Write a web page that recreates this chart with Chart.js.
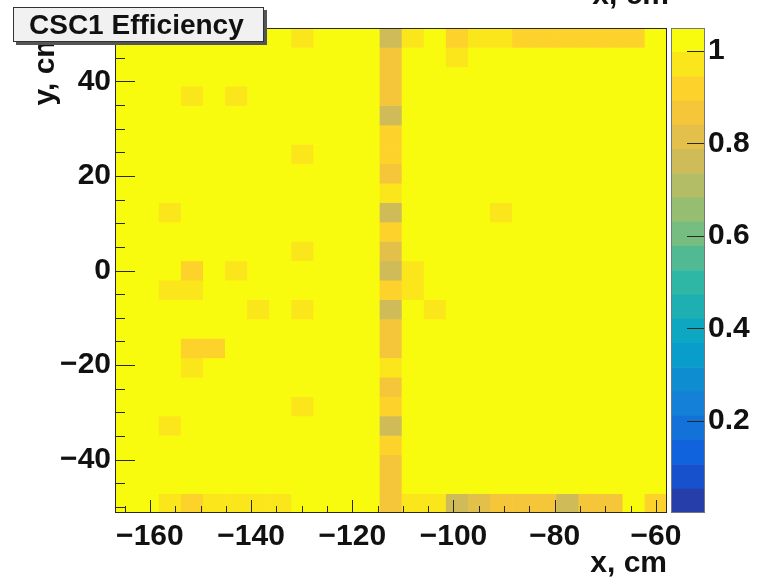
<!DOCTYPE html>
<html>
<head>
<meta charset="utf-8">
<script src="https://cdn.jsdelivr.net/npm/chart.js@4.4.0/dist/chart.umd.min.js"></script>
<style>
    body { margin: 0; background: #ffffff; }
    #marco { position: relative; width: 769px; height: 579px; }
    #marco canvas { position: absolute; left: 0; top: 0; }
</style>
</head>
<body>
<div id="marco">
    <canvas id="mapa" width="769" height="579"></canvas>
    <canvas id="escala" width="769" height="579"></canvas>
</div>
<script>
// histograma 25 x 25 (cm)
var xMin = -166.9, xMax = -57.8, nX = 25;
var yMin = -51.3, yMax = 51.3, nY = 25;
var zMin = 0, zMax = 1.05, nContours = 20;
var xTicks = [-160, -140, -120, -100, -80, -60];
var yTicks = [-40, -20, 0, 20, 40];
var zTicks = [0.2, 0.4, 0.6, 0.8, 1];
var titulo = 'CSC1 Efficiency';
var tituloX = 'x, cm';
var tituloY = 'y, cm';

// eficiencia por bin, filas de arriba (y max) hacia abajo, columnas de x min a x max
var eff = [
    [1, 1, 1, 1, 1, 1, 1, 1, .97, 1, 1, 1, .77, .96, 1, .91, .96, .96, .91, .91, .91, .91, .91, .91, 1],
    [1, 1, 1, 1, 1, 1, 1, 1, 1, 1, 1, 1, .87, 1, 1, .96, 1, 1, 1, 1, 1, 1, 1, 1, 1],
    [1, 1, 1, 1, 1, 1, 1, 1, 1, 1, 1, 1, .87, 1, 1, 1, 1, 1, 1, 1, 1, 1, 1, 1, 1],
    [1, 1, 1, .97, 1, .97, 1, 1, 1, 1, 1, 1, .87, 1, 1, 1, 1, 1, 1, 1, 1, 1, 1, 1, 1],
    [1, 1, 1, 1, 1, 1, 1, 1, 1, 1, 1, 1, .77, 1, 1, 1, 1, 1, 1, 1, 1, 1, 1, 1, 1],
    [1, 1, 1, 1, 1, 1, 1, 1, 1, 1, 1, 1, .91, 1, 1, 1, 1, 1, 1, 1, 1, 1, 1, 1, 1],
    [1, 1, 1, 1, 1, 1, 1, 1, .97, 1, 1, 1, .91, 1, 1, 1, 1, 1, 1, 1, 1, 1, 1, 1, 1],
    [1, 1, 1, 1, 1, 1, 1, 1, 1, 1, 1, 1, .87, 1, 1, 1, 1, 1, 1, 1, 1, 1, 1, 1, 1],
    [1, 1, 1, 1, 1, 1, 1, 1, 1, 1, 1, 1, .96, 1, 1, 1, 1, 1, 1, 1, 1, 1, 1, 1, 1],
    [1, 1, .96, 1, 1, 1, 1, 1, 1, 1, 1, 1, .77, 1, 1, 1, 1, .96, 1, 1, 1, 1, 1, 1, 1],
    [1, 1, 1, 1, 1, 1, 1, 1, 1, 1, 1, 1, .91, 1, 1, 1, 1, 1, 1, 1, 1, 1, 1, 1, 1],
    [1, 1, 1, 1, 1, 1, 1, 1, .97, 1, 1, 1, .80, 1, 1, 1, 1, 1, 1, 1, 1, 1, 1, 1, 1],
    [1, 1, 1, .93, 1, .96, 1, 1, 1, 1, 1, 1, .77, .96, 1, 1, 1, 1, 1, 1, 1, 1, 1, 1, 1],
    [1, 1, .96, .96, 1, 1, 1, 1, 1, 1, 1, 1, .91, .96, 1, 1, 1, 1, 1, 1, 1, 1, 1, 1, 1],
    [1, 1, 1, 1, 1, 1, .95, 1, .96, 1, 1, 1, .77, 1, .96, 1, 1, 1, 1, 1, 1, 1, 1, 1, 1],
    [1, 1, 1, 1, 1, 1, 1, 1, 1, 1, 1, 1, .88, 1, 1, 1, 1, 1, 1, 1, 1, 1, 1, 1, 1],
    [1, 1, 1, .93, .93, 1, 1, 1, 1, 1, 1, 1, .88, 1, 1, 1, 1, 1, 1, 1, 1, 1, 1, 1, 1],
    [1, 1, 1, .96, 1, 1, 1, 1, 1, 1, 1, 1, .96, 1, 1, 1, 1, 1, 1, 1, 1, 1, 1, 1, 1],
    [1, 1, 1, 1, 1, 1, 1, 1, 1, 1, 1, 1, .86, 1, 1, 1, 1, 1, 1, 1, 1, 1, 1, 1, 1],
    [1, 1, 1, 1, 1, 1, 1, 1, .97, 1, 1, 1, .91, 1, 1, 1, 1, 1, 1, 1, 1, 1, 1, 1, 1],
    [1, 1, .96, 1, 1, 1, 1, 1, 1, 1, 1, 1, .77, 1, 1, 1, 1, 1, 1, 1, 1, 1, 1, 1, 1],
    [1, 1, 1, 1, 1, 1, 1, 1, 1, 1, 1, 1, .91, 1, 1, 1, 1, 1, 1, 1, 1, 1, 1, 1, 1],
    [1, 1, 1, 1, 1, 1, 1, 1, 1, 1, 1, 1, .87, 1, 1, 1, 1, 1, 1, 1, 1, 1, 1, 1, 1],
    [1, 1, 1, 1, 1, 1, 1, 1, 1, 1, 1, 1, .87, 1, 1, 1, 1, 1, 1, 1, 1, 1, 1, 1, 1],
    [1, 1, .96, .93, .96, .96, .96, .96, 1, 1, 1, 1, .87, .96, .96, .77, .82, .87, .87, .87, .77, .87, .87, 1, .90]
];

// paleta kBird de ROOT
var birdStops = [0.0000, 0.1250, 0.2500, 0.3750, 0.5000, 0.6250, 0.7500, 0.8750, 1.0000];
var birdR = [0.2082, 0.0592, 0.0780, 0.0232, 0.1802, 0.5301, 0.8186, 0.9956, 0.9764];
var birdG = [0.1664, 0.3599, 0.5041, 0.6419, 0.7178, 0.7492, 0.7328, 0.7862, 0.9832];
var birdB = [0.5293, 0.8684, 0.8385, 0.7914, 0.6425, 0.4662, 0.3499, 0.1968, 0.0539];

var bird = function (t) {
    t = Math.max(0, Math.min(1, t));
    var i = 0;
    while (i < birdStops.length - 2 && t > birdStops[i + 1]) i++;
    var f = (t - birdStops[i]) / (birdStops[i + 1] - birdStops[i]);
    var c = function (arr) { return Math.round(255 * (arr[i] + f * (arr[i + 1] - arr[i]))); };
    return 'rgb(' + c(birdR) + ',' + c(birdG) + ',' + c(birdB) + ')';
}

var contorno = function (v) {
    var k = Math.floor((v - zMin) / (zMax - zMin) * nContours);
    return Math.max(0, Math.min(nContours - 1, k));
}

var colorDe = function (v) {
    return bird((contorno(v) + 0.99) / nContours);
}

var numero = function (v) {
    return v < 0 ? '\u2212' + Math.abs(v) : String(v);
}

var fuente = { family: 'Liberation Sans', size: 30, weight: 'bold' };
var negro = '#111111';

var anchoX = (xMax - xMin) / nX;
var altoY = (yMax - yMin) / nY;

var datasets = [];
eff.forEach(function (fila, r) {
    var yHi = yMax - r * altoY;
    var yLo = yHi - altoY;
    datasets.push({
        data: fila.map(function (v, c) { return { x: xMin + (c + 0.5) * anchoX, y: [yLo, yHi] }; }),
        backgroundColor: fila.map(colorDe),
        borderWidth: 0,
        grouped: false,
        barPercentage: 1,
        categoryPercentage: 1
    });
});

// marcas hacia adentro, marco y textos al estilo ROOT
var marcas = {
    id: 'marcas',
    afterDatasetsDraw: function (chart) {
        var ctx = chart.ctx, a = chart.chartArea;
        var sx = chart.scales.x, sy = chart.scales.y;
        ctx.save();
        ctx.strokeStyle = '#2a2a1a';
        ctx.lineWidth = 1;
        ctx.beginPath();
        for (var v = Math.ceil(xMin / 5) * 5; v <= xMax; v += 5) {
            var px = Math.round(sx.getPixelForValue(v)) + 0.5;
            var len = (v % 20 === 0) ? 13 : 7;
            ctx.moveTo(px, a.bottom);
            ctx.lineTo(px, a.bottom - len);
        }
        for (var w = Math.ceil(yMin / 5) * 5; w <= yMax; w += 5) {
            var py = Math.round(sy.getPixelForValue(w)) + 0.5;
            var l2 = (w % 20 === 0) ? 20 : 10;
            ctx.moveTo(a.left, py);
            ctx.lineTo(a.left + l2, py);
        }
        ctx.stroke();
        ctx.strokeRect(Math.round(a.left) + 0.5, Math.round(a.top) + 0.5, Math.round(a.width) - 1, Math.round(a.height) - 1);
        ctx.restore();
    },
    afterDraw: function (chart) {
        var ctx = chart.ctx, a = chart.chartArea;
        ctx.save();
        ctx.fillStyle = negro;
        ctx.font = 'bold 30px "Liberation Sans"';
        // titulo x (y el recorte que asoma arriba)
        ctx.textAlign = 'right';
        ctx.textBaseline = 'alphabetic';
        ctx.fillText(tituloX, a.right, 572);
        ctx.fillText(tituloX, a.right + 2, 4);
        // titulo y
        ctx.save();
        ctx.translate(54, 31);
        ctx.rotate(-Math.PI / 2);
        ctx.textAlign = 'right';
        ctx.fillText(tituloY, 0, 0);
        ctx.restore();
        // caja del titulo
        ctx.fillStyle = '#555555';
        ctx.fillRect(16, 10, 251, 35);
        ctx.fillStyle = '#f1f1f1';
        ctx.fillRect(13, 7, 251, 35);
        ctx.strokeStyle = '#333333';
        ctx.lineWidth = 1;
        ctx.strokeRect(13.5, 7.5, 250, 34);
        ctx.fillStyle = negro;
        ctx.font = 'bold 28px "Liberation Sans"';
        ctx.textAlign = 'left';
        ctx.fillText(titulo, 29, 34);
        ctx.restore();
    }
};

var mapa = new Chart(document.getElementById('mapa'), {
    type: 'bar',
    data: { datasets: datasets },
    plugins: [marcas],
    options: {
        responsive: false,
        animation: false,
        devicePixelRatio: 1,
        layout: { padding: { top: 28, right: 102, left: 0, bottom: 0 } },
        plugins: { legend: { display: false }, tooltip: { enabled: false } },
        scales: {
            x: {
                type: 'linear',
                min: xMin,
                max: xMax,
                offset: false,
                grid: { display: false, drawTicks: false, offset: false },
                border: { display: false },
                afterBuildTicks: function (s) { s.ticks = xTicks.map(function (v) { return { value: v }; }); },
                afterFit: function (s) { s.height = 66; },
                ticks: { font: fuente, color: negro, padding: 6, maxRotation: 0, autoSkip: false, callback: numero }
            },
            y: {
                type: 'linear',
                min: yMin,
                max: yMax,
                grid: { display: false, drawTicks: false },
                border: { display: false },
                afterBuildTicks: function (s) { s.ticks = yTicks.map(function (v) { return { value: v }; }); },
                afterFit: function (s) { s.width = 115; },
                ticks: { font: fuente, color: negro, padding: 4, autoSkip: false, callback: numero }
            }
        }
    }
});

// barra de colores
var bandas = [];
for (var k = 0; k < nContours; k++) {
    var lo = zMin + k * (zMax - zMin) / nContours;
    var hi = zMin + (k + 1) * (zMax - zMin) / nContours;
    bandas.push({
        data: [[lo, hi]],
        backgroundColor: bird((k + 0.99) / nContours),
        borderWidth: 0,
        grouped: false,
        barPercentage: 1,
        categoryPercentage: 1
    });
}

var marcasZ = {
    id: 'marcasZ',
    afterDatasetsDraw: function (chart) {
        var ctx = chart.ctx, a = chart.chartArea, sz = chart.scales.y;
        ctx.save();
        ctx.strokeStyle = '#2a2a1a';
        ctx.lineWidth = 1;
        ctx.beginPath();
        zTicks.forEach(function (v) {
            var py = Math.round(sz.getPixelForValue(v)) + 0.5;
            ctx.moveTo(a.right, py);
            ctx.lineTo(a.right - 18, py);
        });
        ctx.stroke();
        ctx.strokeStyle = '#777777';
        ctx.strokeRect(Math.round(a.left) + 0.5, Math.round(a.top) + 0.5, Math.round(a.width) - 1, Math.round(a.height) - 1);
        ctx.restore();
    }
};

var escala = new Chart(document.getElementById('escala'), {
    type: 'bar',
    data: { labels: ['z'], datasets: bandas },
    plugins: [marcasZ],
    options: {
        responsive: false,
        animation: false,
        devicePixelRatio: 1,
        layout: { padding: { top: 28, right: 0, left: 671, bottom: 66 } },
        plugins: { legend: { display: false }, tooltip: { enabled: false } },
        scales: {
            x: { display: false },
            y: {
                position: 'right',
                min: zMin,
                max: zMax,
                grid: { display: false, drawTicks: false },
                border: { display: false },
                afterBuildTicks: function (s) { s.ticks = zTicks.map(function (v) { return { value: v }; }); },
                afterFit: function (s) { s.width = 64; },
                ticks: { font: fuente, color: negro, padding: 3, autoSkip: false, callback: function (v) { return String(v); } }
            }
        }
    }
});
</script>
</body>
</html>
